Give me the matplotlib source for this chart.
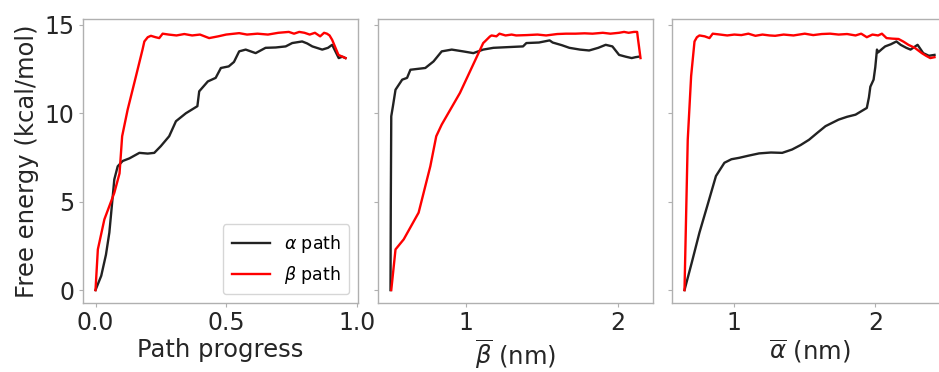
import matplotlib
matplotlib.use("Agg")
import matplotlib.pyplot as plt

# free energy profiles along the path progress variable
prog_alpha = [0.0, 0.022, 0.04, 0.053, 0.072, 0.085, 0.104, 0.13, 0.168, 0.2, 0.225, 0.25, 0.282,
              0.308, 0.346, 0.39, 0.397, 0.43, 0.46, 0.48, 0.51, 0.53, 0.55, 0.575, 0.613,
              0.651, 0.69, 0.728, 0.753, 0.791, 0.81, 0.83, 0.868, 0.89, 0.906, 0.925, 0.931, 0.945, 0.957]
fe_prog_alpha = [0.0, 0.81, 2.0, 3.25, 6.26, 7.0, 7.3, 7.45, 7.76, 7.72, 7.76, 8.14, 8.7,
                 9.55, 10.0, 10.4, 11.24, 11.8, 12.0, 12.56, 12.65, 12.9, 13.5, 13.6, 13.4,
                 13.7, 13.72, 13.78, 13.97, 14.06, 13.95, 13.78, 13.6, 13.7, 13.87, 13.3, 13.12, 13.2, 13.12]
prog_beta = [0.0, 0.009, 0.034, 0.072, 0.092, 0.102, 0.123, 0.155, 0.18, 0.187, 0.2, 0.212, 0.23,
             0.244, 0.257, 0.28, 0.31, 0.34, 0.37, 0.4, 0.435, 0.47, 0.5, 0.55, 0.58, 0.62,
             0.66, 0.7, 0.74, 0.76, 0.78, 0.8, 0.82, 0.84, 0.86, 0.875, 0.886, 0.896, 0.906,
             0.93, 0.945, 0.957]
fe_prog_beta = [0.0, 2.3, 4.0, 5.5, 6.6, 8.7, 10.2, 12.1, 13.6, 14.06, 14.3, 14.38, 14.3,
                14.25, 14.5, 14.45, 14.4, 14.48, 14.4, 14.45, 14.25, 14.35, 14.45, 14.53, 14.45, 14.5,
                14.45, 14.55, 14.6, 14.5, 14.6, 14.55, 14.45, 14.55, 14.35, 14.55, 14.5, 14.4, 14.15,
                13.3, 13.2, 13.12]

# profiles as a function of the beta-bar distance
bb_alpha = [0.503, 0.505, 0.508, 0.519, 0.536, 0.58, 0.612, 0.634, 0.732, 0.786, 0.84, 0.906,
            0.98, 1.048, 1.113, 1.18, 1.3, 1.375, 1.397, 1.48, 1.55, 1.57, 1.63, 1.68, 1.75,
            1.81, 1.87, 1.919, 1.963, 2.007, 2.05, 2.09, 2.115, 2.137]
fe_bb_alpha = [0.0, 5.0, 9.83, 10.4, 11.33, 11.9, 12.0, 12.46, 12.56, 12.93, 13.5, 13.6,
               13.5, 13.4, 13.6, 13.7, 13.75, 13.78, 13.97, 14.0, 14.12, 14.0, 13.85, 13.7, 13.6,
               13.55, 13.7, 13.87, 13.78, 13.3, 13.2, 13.12, 13.17, 13.2]
bb_beta = [0.508, 0.536, 0.59, 0.688, 0.765, 0.804, 0.84, 0.96, 1.113, 1.124, 1.157, 1.168,
           1.2, 1.22, 1.26, 1.3, 1.33, 1.4, 1.47, 1.527, 1.6, 1.658, 1.72, 1.78, 1.832, 1.9,
           1.95, 2.007, 2.04, 2.07, 2.105, 2.126, 2.13, 2.148]
fe_bb_beta = [0.0, 2.3, 2.87, 4.38, 7.0, 8.7, 9.36, 11.15, 13.97, 14.06, 14.34, 14.4,
              14.35, 14.5, 14.4, 14.45, 14.4, 14.42, 14.45, 14.4, 14.48, 14.5, 14.5, 14.52, 14.5, 14.55,
              14.5, 14.55, 14.6, 14.55, 14.6, 14.6, 14.3, 13.12]

# profiles as a function of the alpha-bar distance
ab_alpha = [0.647, 0.7, 0.753, 0.81, 0.87, 0.93, 0.98, 1.035, 1.1, 1.176, 1.26, 1.34, 1.41,
            1.47, 1.53, 1.59, 1.647, 1.74, 1.8, 1.86, 1.94, 1.955, 1.965, 1.988, 2.0, 2.012,
            2.02, 2.05, 2.07, 2.11, 2.15, 2.18, 2.22, 2.25, 2.3, 2.34, 2.38, 2.42]
fe_ab_alpha = [0.0, 1.6, 3.25, 4.8, 6.45, 7.2, 7.4, 7.48, 7.6, 7.73, 7.78, 7.76, 7.95,
               8.2, 8.5, 8.9, 9.27, 9.64, 9.8, 9.92, 10.3, 10.9, 11.5, 11.9, 12.6, 13.6,
               13.44, 13.65, 13.78, 13.9, 14.06, 13.87, 13.7, 13.6, 13.87, 13.4, 13.25, 13.3]
ab_beta = [0.647, 0.67, 0.694, 0.718, 0.735, 0.753, 0.79, 0.824, 0.847, 0.9, 0.95, 1.0,
           1.05, 1.1, 1.15, 1.2, 1.25, 1.29, 1.35, 1.42, 1.5, 1.56, 1.62, 1.68, 1.74, 1.8,
           1.86, 1.9, 1.94, 1.98, 2.02, 2.047, 2.08, 2.12, 2.165, 2.2, 2.235, 2.28, 2.33,
           2.36, 2.39, 2.42]
fe_ab_beta = [0.0, 8.5, 12.1, 14.06, 14.3, 14.4, 14.35, 14.25, 14.5, 14.45, 14.4, 14.45,
              14.42, 14.5, 14.38, 14.45, 14.4, 14.38, 14.45, 14.4, 14.5, 14.42, 14.48, 14.5, 14.45,
              14.48, 14.4, 14.5, 14.3, 14.45, 14.4, 14.5, 14.25, 14.22, 14.2, 14.05, 13.87, 13.7,
              13.4, 13.25, 13.12, 13.17]

BLACK = '#222222'
RED = '#ff0000'
SPINE = '#b0b0b0'
TEXT = '#262626'

plt.rcParams['font.family'] = 'DejaVu Sans'

fig = plt.figure(figsize=(9.39, 3.72), dpi=100)
W, H = 939, 372


def add_panel(left, sharey=None):
    ax = fig.add_axes([left / W, (H - 303) / H, 275 / W, 284 / H], sharey=sharey)
    for s in ax.spines.values():
        s.set_color(SPINE)
        s.set_linewidth(1.0)
    ax.tick_params(direction='out', length=3, width=0.8, color=SPINE,
                   labelsize=17, labelcolor=TEXT, pad=3)
    return ax


ax1 = add_panel(83)
ax2 = add_panel(378, sharey=ax1)
ax3 = add_panel(672, sharey=ax1)

ax1.plot(prog_alpha, fe_prog_alpha, color=BLACK, lw=1.7, label=r'$\alpha$ path')
ax1.plot(prog_beta, fe_prog_beta, color=RED, lw=1.7, label=r'$\beta$ path')
ax1.set_xlabel('Path progress', fontsize=17.5, color=TEXT, labelpad=2)
ax1.set_ylabel('Free energy (kcal/mol)', fontsize=17.5, color=TEXT, labelpad=4)
ax1.set_xticks([0.0, 0.5, 1.0])
ax1.set_xticklabels(['0.0', '0.5', '1.0'])
ax1.set_yticks([0, 5, 10, 15])
ax1.legend(loc='lower right', fontsize=12.5, handlelength=2.2, borderpad=0.5,
           labelspacing=0.5, bbox_to_anchor=(1.0, 0.0))

ax2.plot(bb_alpha, fe_bb_alpha, color=BLACK, lw=1.7)
ax2.plot(bb_beta, fe_bb_beta, color=RED, lw=1.7)
ax2.set_xlabel(r'$\overline{\beta}$ (nm)', fontsize=17.5, color=TEXT, labelpad=2)
ax2.set_xticks([1, 2])

ax3.plot(ab_alpha, fe_ab_alpha, color=BLACK, lw=1.7)
ax3.plot(ab_beta, fe_ab_beta, color=RED, lw=1.7)
ax3.set_xlabel(r'$\overline{\alpha}$ (nm)', fontsize=17.5, color=TEXT, labelpad=2)
ax3.set_xticks([1, 2])

ax2.tick_params(labelleft=False)
ax3.tick_params(labelleft=False)

fig.savefig('out.png', dpi=100)
